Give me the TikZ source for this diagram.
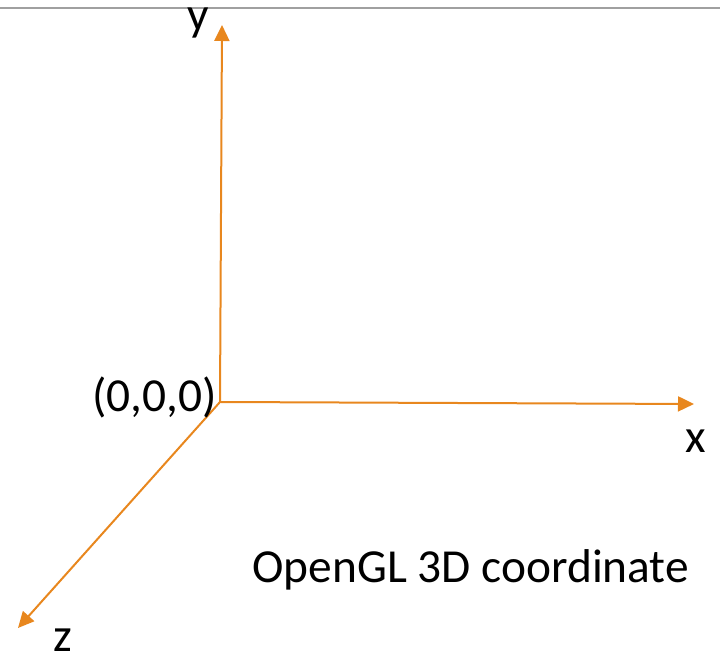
\documentclass[tikz,border=0pt]{standalone}
\usepackage{fontspec}
\setmainfont{Carlito}
\usepackage{tikz}
\usetikzlibrary{arrows.meta}
\usetikzlibrary{positioning}
\definecolor{axisorange}{RGB}{232,135,30}
\definecolor{rulegray}{RGB}{160,160,160}

\begin{document}
\begin{tikzpicture}[
		% one unit = one pixel of the reference
		x=0.5pt, y=-0.5pt,
		line join=round,
		axis/.style={axisorange, line width=1pt, -{Triangle[width=7.5pt, length=8pt]}},
		lbl/.style={inner sep=0pt, font=\fontsize{23.7}{28}\selectfont}
	]
	\useasboundingbox (0,0) rectangle (720,658);

	%-------------------
	% Top rule
	%-------------------
	\draw[rulegray, line width=1pt] (0,8) -- (720,8);

	%-------------------
	% Axes
	%-------------------
	\coordinate (O) at (220,402);
	\coordinate (xend) at (694,404);
	\coordinate (yend) at (222,25);
	\coordinate (zend) at (18,628);

	\draw[axis] (O) -- (xend);
	\draw[axis] (O) -- (yend);
	\draw[axis] (O) -- (zend);

	%-------------------
	% Labels
	%-------------------
	\node[lbl, anchor=base] (xlabel) at (696,453) {x};
	\node[lbl, anchor=base] (ylabel) at (198,31) {y};
	\node[lbl, anchor=base] (zlabel) at (63,652) {z};
	\node[lbl, anchor=base east] (origin) at (217,412) {(0,0,0)};
	\node[lbl, anchor=base west] (caption) at (252,583) {OpenGL 3D coordinate};

\end{tikzpicture}
\end{document}
